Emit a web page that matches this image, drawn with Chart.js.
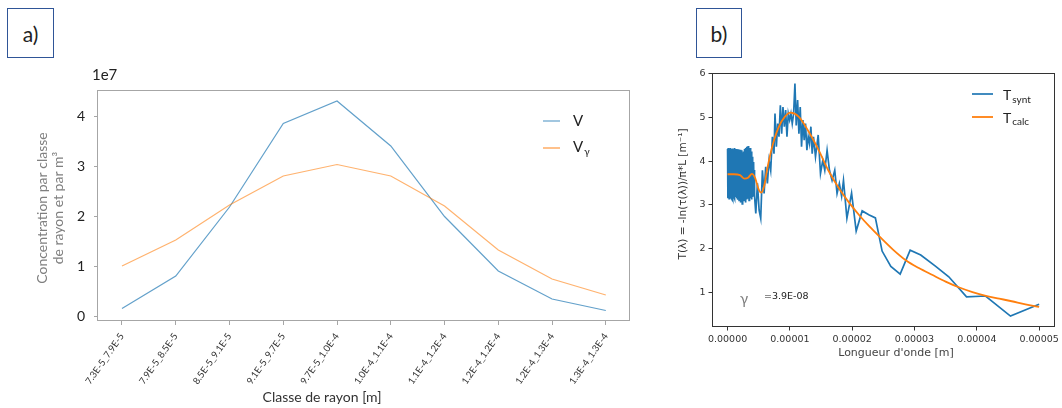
<!DOCTYPE html>
<html lang="fr">
<head>
<meta charset="UTF-8">
<title>Concentration par classe de rayon / transmittance</title>
<script src="https://cdn.jsdelivr.net/npm/chart.js"></script>
<style>
    body { margin: 0; background: #fff; width: 1062px; height: 408px; position: relative; overflow: hidden; }
    canvas { position: absolute; top: 0; }
    #chartA { left: 0; }
    #chartB { left: 660px; }
    .tag {
        position: absolute; top: 8px; height: 50px; box-sizing: border-box;
        border: 1px solid #2f5597; font-family: Lato, sans-serif; font-size: 21px; color: #222;
        display: flex; align-items: center; justify-content: center;
    }
    #tagA { left: 7px; width: 47px; }
    #tagB { left: 696px; width: 46px; }
</style>
</head>
<body>
<div class="tag" id="tagA">a)</div>
<div class="tag" id="tagB">b)</div>
<canvas id="chartA" width="660" height="408"></canvas>
<canvas id="chartB" width="402" height="408"></canvas>

<script>
    // --- a) concentration par classe de rayon
    const classes = ["7.3E-5_7.9E-5", "7.9E-5_8.5E-5", "8.5E-5_9.1E-5", "9.1E-5_9.7E-5", "9.7E-5_1.0E-4",
        "1.0E-4_1.1E-4", "1.1E-4_1.2E-4", "1.2E-4_1.2E-4", "1.2E-4_1.3E-4", "1.3E-4_1.3E-4"];
    const concV = [0.15e7, 0.80e7, 2.18e7, 3.85e7, 4.30e7, 3.40e7, 1.99e7, 0.90e7, 0.34e7, 0.11e7];
    const concVgamma = [1.00e7, 1.52e7, 2.22e7, 2.80e7, 3.03e7, 2.80e7, 2.20e7, 1.32e7, 0.74e7, 0.42e7];
    const yTicksA = [0, 1e7, 2e7, 3e7, 4e7];

    // --- b) transmittance, longueur d'onde en micrometres
    const lambdaSynt = [
        0.00, 0.05, 0.10, 0.15, 0.20, 0.25, 0.30, 0.35, 0.40, 0.45,
        0.50, 0.55, 0.60, 0.65, 0.70, 0.75, 0.80, 0.85, 0.90, 0.95,
        1.00, 1.05, 1.10, 1.15, 1.20, 1.25, 1.30, 1.35, 1.40, 1.45,
        1.50, 1.55, 1.60, 1.65, 1.70, 1.75, 1.80, 1.85, 1.90, 1.95,
        2.00, 2.05, 2.10, 2.15, 2.20, 2.25, 2.30, 2.35, 2.40, 2.45,
        2.50, 2.55, 2.60, 2.65, 2.70, 2.75, 2.80, 2.85, 2.90, 2.95,
        3.00, 3.05, 3.10, 3.15, 3.20, 3.25, 3.30, 3.35, 3.40, 3.45,
        3.50, 3.55, 3.60, 3.65, 3.70, 3.75, 3.80, 3.85, 3.90, 3.95,
        4.00, 4.05, 4.10, 4.15, 4.20, 4.25, 4.30, 4.35,
        4.53, 4.79, 5.06, 5.32, 5.59, 5.86, 6.12, 6.39, 6.66, 6.92,
        7.19, 7.45, 7.61, 7.83, 8.04, 8.25, 8.47, 8.68, 8.89, 9.11,
        9.32, 9.53, 9.74, 9.96, 10.17, 10.38, 10.60, 10.81, 11.02, 11.24,
        11.45, 11.66, 11.87, 12.09, 12.30, 12.51, 12.73, 12.94, 13.15, 13.37,
        13.58, 13.79, 14.11, 14.54, 14.91, 15.28, 15.60, 15.97, 16.35, 16.77,
        17.20, 17.57, 17.94, 18.30, 18.60, 19.15, 19.90, 20.64, 21.60, 22.66,
        23.72, 24.80, 26.20, 27.70, 29.30, 31.00, 33.30, 35.50, 38.35, 41.40,
        45.40, 50.00
    ];
    const tSynt = [
        4.28, 3.15, 4.30, 3.18, 4.26, 3.14, 4.29, 3.20, 4.27, 3.16,
        4.30, 3.17, 4.25, 3.14, 4.28, 3.19, 4.29, 3.15, 4.24, 3.21,
        4.27, 3.17, 4.30, 3.14, 4.26, 3.18, 4.22, 3.22, 4.28, 3.15,
        4.25, 3.19, 4.20, 3.12, 4.27, 3.20, 4.24, 3.10, 4.18, 3.16,
        4.26, 3.05, 4.22, 3.12, 4.15, 3.08, 4.25, 3.02, 4.20, 3.15,
        4.10, 3.20, 4.22, 3.10, 4.28, 3.22, 4.18, 3.05, 4.30, 3.18,
        4.24, 3.12, 4.33, 3.25, 4.20, 3.14, 4.35, 3.20, 4.28, 3.10,
        4.12, 3.28, 4.30, 3.15, 4.05, 3.22, 4.22, 3.12, 3.95, 3.30,
        4.10, 3.18, 3.90, 3.35, 3.98, 3.25, 3.80, 3.20,
        2.80, 3.49, 2.88, 2.69, 3.79, 3.26, 3.87, 3.49, 4.02, 3.79,
        4.56, 4.17, 5.09, 4.33, 4.86, 4.56, 5.28, 4.63, 5.24, 4.79,
        5.17, 4.56, 5.09, 4.94, 5.09, 4.86, 5.09, 5.78, 4.82, 5.40,
        4.63, 5.24, 4.33, 4.94, 4.48, 4.86, 4.25, 4.56, 4.40, 4.79,
        4.17, 4.56, 4.10, 4.60, 3.72, 4.02, 3.79, 4.25, 3.79, 3.56,
        3.79, 3.26, 3.49, 3.20, 3.56, 2.69, 3.27, 2.40, 2.86, 2.77,
        2.70, 1.94, 1.59, 1.41, 1.96, 1.85, 1.60, 1.35, 0.89, 0.91,
        0.45, 0.72
    ];
    const lambdaCalc = [0, 1, 2, 2.7, 3.3, 3.9, 4.4, 5.0, 5.4, 5.9, 6.4, 7.2, 8.2, 9.2, 10.1, 11.4, 13.0, 14.6,
        16.2, 18.0, 19.5, 21.2, 22.8, 24.4, 26.5, 28.6, 30.7, 32.9, 35.0, 37.1, 39.3, 41.6, 43.6, 45.6, 47.8, 50.0];
    const tCalc = [3.70, 3.70, 3.68, 3.60, 3.62, 3.71, 3.62, 3.35, 3.28, 3.45, 3.85, 4.35, 4.78, 5.02, 5.11, 5.02, 4.68, 4.26,
        3.78, 3.35, 3.05, 2.75, 2.50, 2.27, 1.98, 1.73, 1.55, 1.39, 1.24, 1.11, 1.00, 0.91, 0.85, 0.79, 0.72, 0.66];
    const lambdaTicks = [0, 10, 20, 30, 40, 50];
    const yTicksB = [1, 2, 3, 4, 5, 6];

    // cadre + textes libres (titres, légendes avec indices)
    const decor = {
        id: 'decor',
        afterDraw(chart, args, opts) {
            const ctx = chart.ctx;
            const a = chart.chartArea;
            ctx.save();
            ctx.strokeStyle = opts.frame;
            ctx.lineWidth = 1;
            ctx.strokeRect(Math.round(a.left) + 0.5, Math.round(a.top) + 0.5,
                Math.round(a.width) - 1, Math.round(a.height) - 1);

            (opts.lines || []).forEach(l => {
                ctx.strokeStyle = l.color;
                ctx.lineWidth = l.width;
                ctx.beginPath();
                ctx.moveTo(l.x1, l.y);
                ctx.lineTo(l.x2, l.y);
                ctx.stroke();
            });

            (opts.texts || []).forEach(t => {
                ctx.save();
                ctx.translate(t.x, t.y);
                if (t.rotate) ctx.rotate(t.rotate);
                ctx.fillStyle = t.color;
                ctx.font = t.font;
                ctx.textAlign = t.align || 'left';
                ctx.textBaseline = 'middle';
                ctx.fillText(t.text, 0, 0);
                if (t.sub) {
                    const w = ctx.measureText(t.text).width;
                    ctx.font = t.subFont;
                    ctx.textAlign = 'left';
                    ctx.fillText(t.sub, w + 1, t.subDy);
                }
                ctx.restore();
            });
            ctx.restore();
        }
    };

    new Chart(document.getElementById('chartA'), {
        type: 'line',
        data: {
            datasets: [{
                label: 'V',
                data: concV.map((v, i) => ({ x: i, y: v })),
                borderColor: 'rgba(31, 119, 180, 0.7)',
                borderWidth: 1.2,
                pointRadius: 0,
                order: 1
            }, {
                label: 'Vγ',
                data: concVgamma.map((v, i) => ({ x: i, y: v })),
                borderColor: 'rgba(255, 127, 14, 0.6)',
                borderWidth: 1.2,
                pointRadius: 0,
                order: 0
            }]
        },
        options: {
            responsive: false,
            animation: false,
            layout: { padding: { left: 0, top: 90, right: 30, bottom: 0 } },
            plugins: {
                legend: { display: false },
                tooltip: { enabled: false },
                decor: {
                    frame: '#a6a6a6',
                    lines: [
                        { x1: 543, x2: 560, y: 121, color: 'rgba(31, 119, 180, 0.7)', width: 1.2 },
                        { x1: 543, x2: 560, y: 148, color: 'rgba(255, 127, 14, 0.6)', width: 1.6 }
                    ],
                    texts: [
                        { text: '1e7', x: 92, y: 75, font: '15px Lato', color: '#222' },
                        { text: 'V', x: 573, y: 121, font: '15px Lato', color: '#222' },
                        { text: 'V', sub: 'γ', subDy: 5, x: 573, y: 147, font: '15px Lato', subFont: '10px Lato', color: '#222' },
                        { text: 'Concentration par classe', x: 42, y: 208, rotate: -Math.PI / 2, align: 'center', font: '14px Lato', color: '#7f7f7f' },
                        { text: 'de rayon et par m³', x: 58, y: 208, rotate: -Math.PI / 2, align: 'center', font: '14px Lato', color: '#7f7f7f' },
                        { text: 'Classe de rayon [m]', x: 322, y: 397, align: 'center', font: '14px Lato', color: '#333' }
                    ]
                }
            },
            scales: {
                x: {
                    type: 'linear',
                    bounds: 'data',
                    min: -0.465,
                    max: 9.45,
                    afterFit: s => { s.height = 87; },
                    afterBuildTicks: s => { s.ticks = classes.map((c, i) => ({ value: i })); },
                    ticks: {
                        autoSkip: false,
                        minRotation: 55,
                        maxRotation: 55,
                        padding: 6,
                        color: '#333',
                        font: { family: 'Lato', size: 9.5 },
                        callback: v => classes[v]
                    },
                    grid: { drawOnChartArea: false, tickLength: 4, color: '#a6a6a6' },
                    border: { display: false }
                },
                y: {
                    bounds: 'data',
                    min: -0.1e7,
                    max: 4.52e7,
                    afterFit: s => { s.width = 97; },
                    afterBuildTicks: s => { s.ticks = yTicksA.map(v => ({ value: v })); },
                    ticks: {
                        padding: 9,
                        color: '#222',
                        font: { family: 'Lato', size: 14 },
                        callback: v => v / 1e7
                    },
                    grid: { drawOnChartArea: false, tickLength: 3, color: '#a6a6a6' },
                    border: { display: false }
                }
            }
        },
        plugins: [decor]
    });

    new Chart(document.getElementById('chartB'), {
        type: 'line',
        data: {
            datasets: [{
                label: 'T synt',
                data: lambdaSynt.map((l, i) => ({ x: l, y: tSynt[i] })),
                borderColor: '#1f77b4',
                borderWidth: 1.7,
                pointRadius: 0,
                order: 1
            }, {
                label: 'T calc',
                data: lambdaCalc.map((l, i) => ({ x: l, y: tCalc[i] })),
                borderColor: '#ff7f0e',
                borderWidth: 1.8,
                pointRadius: 0,
                cubicInterpolationMode: 'monotone',
                order: 0
            }]
        },
        options: {
            responsive: false,
            animation: false,
            layout: { padding: { left: 0, top: 73, right: 5, bottom: 45 } },
            plugins: {
                legend: { display: false },
                tooltip: { enabled: false },
                decor: {
                    frame: '#333',
                    lines: [
                        { x1: 312, x2: 333, y: 94, color: '#1f77b4', width: 1.7 },
                        { x1: 312, x2: 333, y: 117, color: '#ff7f0e', width: 1.8 }
                    ],
                    texts: [
                        { text: 'T', sub: 'synt', subDy: 5, x: 343, y: 95, font: '14px Lato', subFont: '10px Lato', color: '#222' },
                        { text: 'T', sub: 'calc', subDy: 4, x: 343, y: 118, font: '14px Lato', subFont: '10px Lato', color: '#222' },
                        { text: 'γ', x: 80, y: 299, font: '15px Lato', color: '#7f7f7f' },
                        { text: '=3.9E-08', x: 104, y: 297, font: '9.5px "DejaVu Sans"', color: '#222' },
                        { text: 'Longueur d\'onde [m]', x: 236, y: 353, align: 'center', font: '11px "DejaVu Sans"', color: '#444' },
                        { text: 'T(λ) = -ln(τ(λ))/π*L [m⁻¹]', x: 23, y: 194, rotate: -Math.PI / 2, align: 'center', font: '10.5px "DejaVu Sans"', color: '#333' }
                    ]
                }
            },
            scales: {
                x: {
                    type: 'linear',
                    bounds: 'data',
                    min: -2.5,
                    max: 52.5,
                    afterFit: s => { s.height = 36; },
                    afterBuildTicks: s => { s.ticks = lambdaTicks.map(v => ({ value: v })); },
                    ticks: {
                        maxRotation: 0,
                        padding: 3,
                        color: '#333',
                        font: { family: 'DejaVu Sans', size: 9.5 },
                        callback: v => (v * 1e-6).toFixed(5)
                    },
                    grid: { drawOnChartArea: false, tickLength: 3.5, color: '#333' },
                    border: { display: false }
                },
                y: {
                    bounds: 'data',
                    min: 0.2,
                    max: 6.02,
                    afterFit: s => { s.width = 52; },
                    afterBuildTicks: s => { s.ticks = yTicksB.map(v => ({ value: v })); },
                    ticks: {
                        padding: 3,
                        color: '#333',
                        font: { family: 'DejaVu Sans', size: 9.5 },
                        callback: v => v
                    },
                    grid: { drawOnChartArea: false, tickLength: 3.5, color: '#333' },
                    border: { display: false }
                }
            }
        },
        plugins: [decor]
    });
</script>
</body>
</html>
